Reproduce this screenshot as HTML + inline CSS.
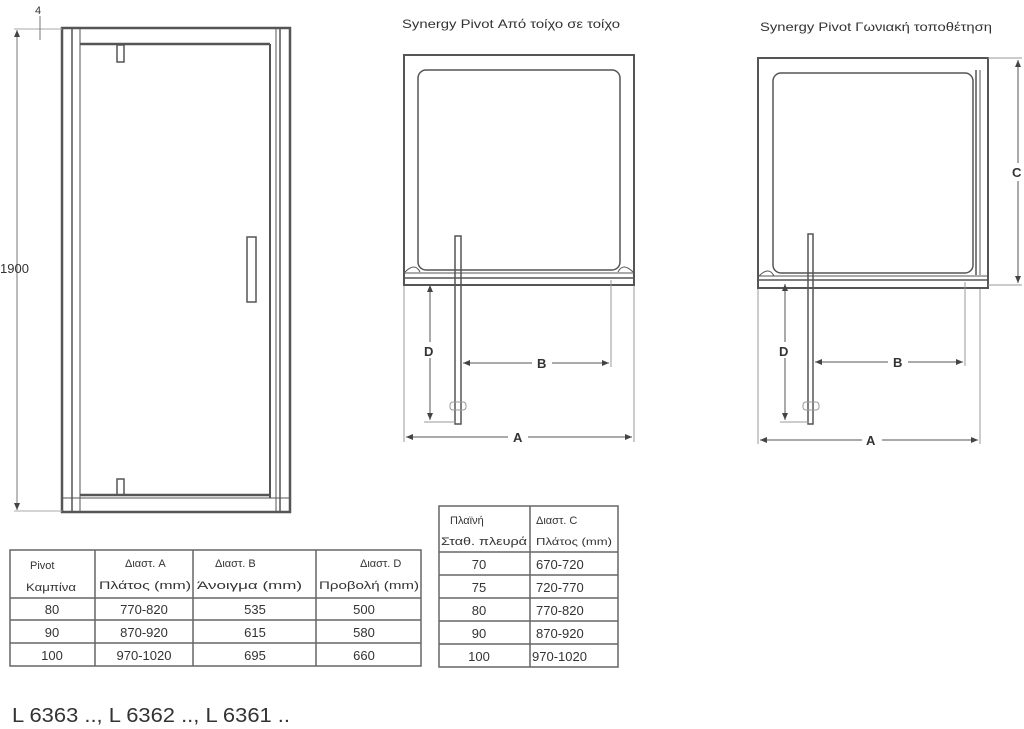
<!DOCTYPE html>
<html><head><meta charset="utf-8"><style>
html,body{margin:0;padding:0;background:#fff;}
svg{display:block;}
text{font-family:"Liberation Sans",sans-serif;fill:#333;}
</style></head><body>
<svg width="1024" height="729" viewBox="0 0 1024 729" xmlns="http://www.w3.org/2000/svg">
<defs>
<marker id="ar" markerWidth="8" markerHeight="8" refX="7" refY="4" orient="auto-start-reverse" markerUnits="userSpaceOnUse"><path d="M0,1 L7,4 L0,7 z" fill="#444"/></marker>
</defs>
<!-- Left door elevation -->
<g fill="none" stroke="#555">
<rect x="62" y="28" width="228" height="484" stroke-width="2.5"/>
<line x1="72" y1="29" x2="72" y2="511" stroke-width="1.5"/>
<line x1="80" y1="29" x2="80" y2="511" stroke-width="1"/>
<line x1="270" y1="44" x2="270" y2="498" stroke-width="2"/>
<line x1="276" y1="29" x2="276" y2="511" stroke-width="1"/>
<line x1="280" y1="29" x2="280" y2="511" stroke-width="1.5"/>
<line x1="80" y1="44" x2="270" y2="44" stroke-width="2.5"/>
<line x1="80" y1="495" x2="270" y2="495" stroke-width="2.5"/>
<line x1="63" y1="498" x2="289" y2="498" stroke-width="1"/>
<rect x="117" y="45" width="7" height="17" stroke-width="1.5"/>
<rect x="117" y="479" width="7" height="16" stroke-width="1.5"/>
<rect x="247" y="237" width="9" height="65" stroke-width="1.5"/>
<line x1="14" y1="29" x2="62" y2="29" stroke="#aaa" stroke-width="1"/>
<line x1="17" y1="30" x2="17" y2="510" stroke="#777" stroke-width="1" marker-start="url(#ar)" marker-end="url(#ar)"/>
<line x1="14" y1="511" x2="62" y2="511" stroke="#aaa" stroke-width="1"/>
<line x1="40" y1="16" x2="40" y2="40" stroke="#777" stroke-width="1"/>
</g>
<text x="0" y="273" font-size="13">1900</text>
<text x="35" y="14" font-size="11">4</text>

<!-- Middle plan -->
<text x="402" y="28" font-size="12" textLength="218" lengthAdjust="spacingAndGlyphs">Synergy  Pivot Από τοίχο σε τοίχο</text>
<g fill="none" stroke="#555">
<rect x="404" y="55" width="230" height="230" stroke-width="2"/>
<rect x="418" y="70" width="202" height="200" rx="8" stroke-width="1.5"/>
<line x1="405" y1="273" x2="633" y2="273" stroke-width="1"/>
<line x1="405" y1="278" x2="633" y2="278" stroke-width="1.5"/>
<path d="M405,272 q10,-10 15,0 M633,272 q-10,-10 -15,0" stroke-width="1"/>
<rect x="455" y="236" width="6" height="188" stroke-width="1.5"/>
<g stroke="#999" stroke-width="1">
<line x1="404" y1="286" x2="404" y2="442"/>
<line x1="634" y1="286" x2="634" y2="442"/>
<line x1="611" y1="280" x2="611" y2="367"/>
<line x1="424" y1="422" x2="456" y2="422"/>
</g>
<line x1="406" y1="437" x2="632" y2="437" stroke="#555" stroke-width="1" marker-start="url(#ar)" marker-end="url(#ar)"/>
<line x1="463" y1="363" x2="609" y2="363" stroke="#555" stroke-width="1" marker-start="url(#ar)" marker-end="url(#ar)"/>
<line x1="430" y1="285" x2="430" y2="420" stroke="#555" stroke-width="1" marker-start="url(#ar)" marker-end="url(#ar)"/>
<rect x="450" y="402" width="16" height="8" rx="3" stroke="#999" stroke-width="1"/>
</g>
<rect x="424" y="342" width="14" height="16" fill="#fff"/>
<rect x="532" y="355" width="20" height="16" fill="#fff"/>
<rect x="508" y="429" width="20" height="16" fill="#fff"/>
<text x="424" y="356" font-size="13" font-weight="bold">D</text>
<text x="537" y="368" font-size="13" font-weight="bold">B</text>
<text x="513" y="442" font-size="13" font-weight="bold">A</text>

<!-- Right plan -->
<text x="760" y="31" font-size="12" textLength="232" lengthAdjust="spacingAndGlyphs">Synergy  Pivot Γωνιακή τοποθέτηση</text>
<g fill="none" stroke="#555">
<rect x="758" y="58" width="230" height="230" stroke-width="2"/>
<rect x="773" y="73" width="200" height="200" rx="8" stroke-width="1.5"/>
<line x1="976" y1="70" x2="976" y2="275" stroke-width="1.5"/>
<line x1="980" y1="70" x2="980" y2="275" stroke-width="1"/>
<line x1="759" y1="276" x2="987" y2="276" stroke-width="1"/>
<line x1="759" y1="280" x2="987" y2="280" stroke-width="1.5"/>
<path d="M759,276 q10,-10 15,0" stroke-width="1"/>
<rect x="808" y="234" width="5" height="190" stroke-width="1.5"/>
<g stroke="#999" stroke-width="1">
<line x1="758" y1="289" x2="758" y2="444"/>
<line x1="980" y1="289" x2="980" y2="444"/>
<line x1="965" y1="282" x2="965" y2="366"/>
<line x1="988" y1="58" x2="1022" y2="58"/>
<line x1="988" y1="285" x2="1022" y2="285"/>
<line x1="780" y1="422" x2="809" y2="422"/>
</g>
<line x1="760" y1="440" x2="978" y2="440" stroke="#555" stroke-width="1" marker-start="url(#ar)" marker-end="url(#ar)"/>
<line x1="815" y1="362" x2="963" y2="362" stroke="#555" stroke-width="1" marker-start="url(#ar)" marker-end="url(#ar)"/>
<line x1="785" y1="284" x2="785" y2="420" stroke="#555" stroke-width="1" marker-start="url(#ar)" marker-end="url(#ar)"/>
<line x1="1018" y1="60" x2="1018" y2="283" stroke="#555" stroke-width="1" marker-start="url(#ar)" marker-end="url(#ar)"/>
<rect x="803" y="402" width="16" height="8" rx="3" stroke="#999" stroke-width="1"/>
</g>
<rect x="779" y="342" width="14" height="16" fill="#fff"/>
<rect x="888" y="354" width="20" height="16" fill="#fff"/>
<rect x="862" y="432" width="20" height="16" fill="#fff"/>
<rect x="1010" y="163" width="16" height="18" fill="#fff"/>
<text x="779" y="356" font-size="13" font-weight="bold">D</text>
<text x="893" y="367" font-size="13" font-weight="bold">B</text>
<text x="866" y="445" font-size="13" font-weight="bold">A</text>
<text x="1012" y="177" font-size="13" font-weight="bold">C</text>

<!-- Table 1 -->
<g fill="none" stroke="#666" stroke-width="1.5">
<rect x="10" y="550" width="411" height="116"/>
<line x1="95" y1="550" x2="95" y2="666"/>
<line x1="193" y1="550" x2="193" y2="666"/>
<line x1="316" y1="550" x2="316" y2="666"/>
<line x1="10" y1="598" x2="421" y2="598"/>
<line x1="10" y1="620" x2="421" y2="620"/>
<line x1="10" y1="643" x2="421" y2="643"/>
</g>
<g font-size="11">
<text x="30" y="569">Pivot</text>
<text x="26" y="591" textLength="50" lengthAdjust="spacingAndGlyphs">Καμπίνα</text>
<text x="125" y="567">Διαστ. A</text>
<text x="99" y="589" textLength="92" lengthAdjust="spacingAndGlyphs">Πλάτος (mm)</text>
<text x="215" y="567">Διαστ. B</text>
<text x="197" y="589" textLength="105" lengthAdjust="spacingAndGlyphs">Άνοιγμα (mm)</text>
<text x="360" y="567">Διαστ. D</text>
<text x="319" y="589" textLength="100" lengthAdjust="spacingAndGlyphs">Προβολή (mm)</text>
</g>
<g font-size="13">
<text x="52" y="614" text-anchor="middle">80</text><text x="144" y="614" text-anchor="middle">770-820</text><text x="255" y="614" text-anchor="middle">535</text><text x="364" y="614" text-anchor="middle">500</text>
<text x="52" y="637" text-anchor="middle">90</text><text x="144" y="637" text-anchor="middle">870-920</text><text x="255" y="637" text-anchor="middle">615</text><text x="364" y="637" text-anchor="middle">580</text>
<text x="52" y="660" text-anchor="middle">100</text><text x="144" y="660" text-anchor="middle">970-1020</text><text x="255" y="660" text-anchor="middle">695</text><text x="364" y="660" text-anchor="middle">660</text>
</g>

<!-- Table 2 -->
<g fill="none" stroke="#666" stroke-width="1.5">
<rect x="439" y="506" width="179" height="161"/>
<line x1="530" y1="506" x2="530" y2="667"/>
<line x1="439" y1="552" x2="618" y2="552"/>
<line x1="439" y1="575" x2="618" y2="575"/>
<line x1="439" y1="598" x2="618" y2="598"/>
<line x1="439" y1="621" x2="618" y2="621"/>
<line x1="439" y1="644" x2="618" y2="644"/>
</g>
<g font-size="11">
<text x="450" y="524">Πλαϊνή</text>
<text x="441" y="545" textLength="86" lengthAdjust="spacingAndGlyphs">Σταθ. πλευρά</text>
<text x="536" y="524">Διαστ. C</text>
<text x="536" y="545" font-size="10" textLength="76" lengthAdjust="spacingAndGlyphs">Πλάτος (mm)</text>
</g>
<g font-size="13">
<text x="479" y="569" text-anchor="middle">70</text><text x="536" y="569">670-720</text>
<text x="479" y="592" text-anchor="middle">75</text><text x="536" y="592">720-770</text>
<text x="479" y="615" text-anchor="middle">80</text><text x="536" y="615">770-820</text>
<text x="479" y="638" text-anchor="middle">90</text><text x="536" y="638">870-920</text>
<text x="479" y="661" text-anchor="middle">100</text><text x="532" y="661">970-1020</text>
</g>

<text x="12" y="722" font-size="20" fill="#333" textLength="278" lengthAdjust="spacingAndGlyphs">L 6363 .., L 6362 .., L 6361 ..</text>
</svg>
</body></html>
